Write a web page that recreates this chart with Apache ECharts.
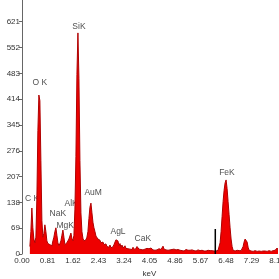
<!DOCTYPE html>
<html><head><meta charset="utf-8">
<script src="https://cdn.jsdelivr.net/npm/echarts@6/dist/echarts.min.js"></script>
<style>html,body{margin:0;padding:0;background:#fff}#c{width:279px;height:279px}</style>
</head><body><div id="c"></div>
<script>
// Energy grid of the spectrum (keV): first channel and channel width
const energyStart = 0.25;
const energyStep = 0.0318;
// Counts per channel
const counts = [
 20,60,123,70,40,30,45,150,330,425, 410,250,90,45,55,78,60,35,28,32,
 25,30,22,35,45,60,70,50,30,22, 28,35,50,64,45,25,22,30,28,40,
 48,56,42,35,50,120,260,480,591,470, 250,110,60,42,35,30,38,45,60,95,
 125,136,110,85,70,60,48,52,40,35, 37,30,28,32,25,22,27,20,23,18,
 24,17,21,19,25,30,38,43,35,22, 28,18,24,16,20,22,15,18,14,17,
 13,16,12,18,14,11,15,20,17,13, 15,12,14,11,16,13,12,15,11,14,
 12,16,13,11,14,10,13,11,12,14, 10,12,11,21,13,15,11,12,10,13,
 11,9,12,10,13,9,11,10,12,9, 10,13,9,11,8,10,12,9,10,8,
 10,9,11,8,9,10,8,9,11,8, 9,8,10,9,8,9,8,9,10,8, 9,8,9,10,8,9,8,9,10,
 15,30,60,100,140,170,190,198,175,140,105,70,40,20,10,
 9,8,9,10,8,9,8,9,
 12,20,32,40,43,32,18,10,
 9,8,9,7,8,9,8,7,9,8, 8,7,9,8,7,8,9,7,8,9, 8,7,8,9,8,10,12,16,10,8
];
// y-axis tick labels / axis ranges
const yTicks = [0,69,138,207,276,345,414,483,552,621];
const yMax = 679;
const xTicks = [0.00,0.81,1.62,2.43,3.24,4.05,4.86,5.67,6.48,7.29,8.10];
// Peak annotations: [energy, counts position, label]
const peakLabels = [
 [0.32,147,'C K'],[0.57,457,'O K'],[1.81,607,'SiK'],[1.14,107,'NaK'],
 [1.37,75,'MgK'],[1.56,134,'AlK'],[2.26,163,'AuM'],[3.05,59,'AgL'],
 [3.84,40,'CaK'],[6.51,217,'FeK']
];
// cursor marker: energy and height
const markerEnergy = 6.14;
const markerHeight = 67;

const spectrum = counts.map((c,i)=>[energyStart + i*energyStep, c]);
const chart = echarts.init(document.getElementById('c'));
chart.setOption({
 animation:false,
 grid:{left:22,right:2,top:0,bottom:25,containLabel:false,outerBoundsMode:'none'},
 xAxis:{type:'value',min:0,max:8.1,interval:0.81,
  name:'keV',nameLocation:'middle',nameGap:12,
  nameTextStyle:{fontSize:8,color:'#333',fontFamily:'Liberation Sans'},
  axisLine:{show:false},axisTick:{show:false},splitLine:{show:false},
  axisLabel:{fontSize:8,color:'#333',margin:3,fontFamily:'Liberation Sans',
   showMaxLabel:true,formatter:v=>{const t=xTicks.find(k=>Math.abs(k-v)<1e-6);return t===undefined?'':t.toFixed(2);}}},
 yAxis:{type:'value',min:0,max:yMax,interval:69,
  name:'Counts',nameLocation:'middle',nameGap:15,nameRotate:90,
  nameTextStyle:{fontSize:8,color:'#333',fontFamily:'Liberation Sans'},
  axisLine:{show:true,lineStyle:{color:'#666',width:1}},
  axisTick:{show:true,length:3,lineStyle:{color:'#666'}},
  splitLine:{show:false},
  axisLabel:{fontSize:8,color:'#333',margin:2,fontFamily:'Liberation Sans',showMaxLabel:false,
   formatter:v=>yTicks.indexOf(Math.round(v))>=0?String(Math.round(v)):''}},
 series:[
  {type:'line',data:spectrum,symbol:'none',
   lineStyle:{color:'#b00000',width:1},
   areaStyle:{color:'#ee0000',opacity:1}},
  {type:'line',data:[[markerEnergy,0],[markerEnergy,markerHeight]],symbol:'none',
   lineStyle:{color:'#000',width:1.5}},
  {type:'scatter',symbolSize:0,data:peakLabels.map(p=>({value:[p[0],p[1]],name:p[2]})),
   label:{show:true,position:'inside',formatter:'{b}',fontSize:8.5,color:'#222',fontFamily:'Liberation Sans'}}
 ]
});
</script></body></html>
